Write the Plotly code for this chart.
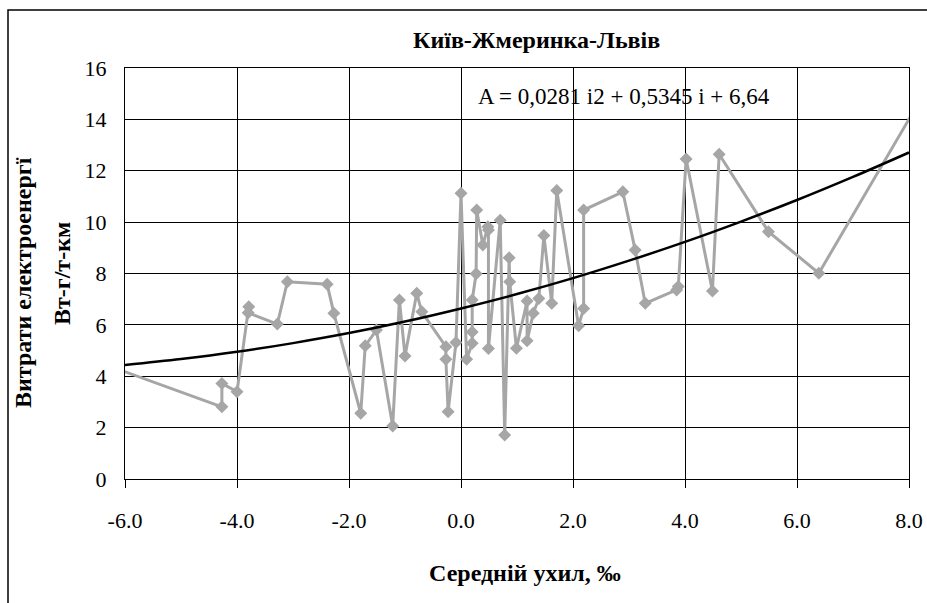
import plotly.graph_objects as go

# ---------------- data ----------------
slope_x = [-6.6, -4.27, -4.27, -4.00, -3.79, -3.80, -3.28, -3.10, -2.39, -2.27,
           -1.79, -1.71, -1.51, -1.22, -1.10, -1.00, -0.79, -0.70, -0.27, -0.27,
           -0.23, -0.09, 0.00, 0.10, 0.20, 0.20, 0.20, 0.27, 0.28, 0.39,
           0.48, 0.49, 0.49, 0.70, 0.78, 0.86, 0.87, 0.99, 1.18, 1.18,
           1.29, 1.39, 1.48, 1.62, 1.71, 2.10, 2.19, 2.19, 2.89, 3.11,
           3.29, 3.85, 3.88, 4.02, 4.49, 4.61, 5.49, 6.39, 8.4]
energy_y = [4.65, 2.81, 3.72, 3.40, 6.71, 6.47, 6.03, 7.68, 7.58, 6.45,
            2.56, 5.19, 5.80, 2.06, 6.97, 4.79, 7.23, 6.51, 5.15, 4.66,
            2.62, 5.31, 11.12, 4.66, 5.28, 5.72, 6.97, 7.99, 10.47, 9.11,
            9.82, 9.69, 5.08, 10.07, 1.71, 8.61, 7.68, 5.09, 6.93, 5.38,
            6.45, 7.03, 9.48, 6.84, 11.23, 5.97, 6.64, 10.47, 11.18, 8.91,
            6.84, 7.36, 7.49, 12.46, 7.32, 12.64, 9.63, 8.01, 15.5]

trend_x = [-6, -5, -4, -3, -2, -1, 0, 1, 2, 3, 4, 5, 6, 7, 8]
trend_y = [4.44, 4.67, 4.95, 5.29, 5.68, 6.13, 6.64, 7.20, 7.82, 8.50,
           9.23, 10.02, 10.86, 11.76, 12.71]

x_tick_vals = [-6, -4, -2, 0, 2, 4, 6, 8]
x_tick_labels = ["-6.0", "-4.0", "-2.0", "0.0", "2.0", "4.0", "6.0", "8.0"]
y_tick_vals = [0, 2, 4, 6, 8, 10, 12, 14, 16]
y_tick_labels = ["0", "2", "4", "6", "8", "10", "12", "14", "16"]

title_text = "Київ-Жмеринка-Львів"
equation_text = "A = 0,0281 i2 + 0,5345 i + 6,64"
x_title = "Середній ухил, ‰"
y_title_1 = "Витрати електроенергї"
y_title_2 = "Вт-г/т-км"

# ---------------- layout helpers ----------------
W, H = 927, 603
L, R, T, B = 125, 909, 68, 479


def px(xp):
    return (xp - L) / (R - L)


def py(yp):
    return (B - yp) / (B - T)


FONT = "'Times New Roman', 'Liberation Serif', 'DejaVu Serif', serif"
GRAY = "#a6a6a6"

fig = go.Figure()
fig.add_trace(go.Scatter(
    x=slope_x, y=energy_y, mode="lines+markers",
    line=dict(color=GRAY, width=3),
    marker=dict(symbol="diamond", size=10, color=GRAY),
    cliponaxis=True, showlegend=False, hoverinfo="skip"))
fig.add_trace(go.Scatter(
    x=trend_x, y=trend_y, mode="lines",
    line=dict(color="black", width=2.5, shape="spline"),
    showlegend=False, hoverinfo="skip"))

axis_common = dict(
    showgrid=True, gridcolor="black", gridwidth=1,
    showline=True, linecolor="black", linewidth=1, mirror=True,
    zeroline=False, automargin=False,
    tickfont=dict(family=FONT, size=22, color="black"),
)

fig.update_layout(
    width=W, height=H,
    margin=dict(l=L, r=W - R, t=T, b=H - B, pad=0, autoexpand=False),
    paper_bgcolor="white", plot_bgcolor="white",
    font=dict(family=FONT, color="black"),
    xaxis=dict(range=[-6, 8], tickvals=x_tick_vals, ticktext=x_tick_labels,
               ticks="outside", ticklen=8, tickcolor="black",
               ticklabelstandoff=14, **axis_common),
    yaxis=dict(range=[0, 16], tickvals=y_tick_vals, ticktext=y_tick_labels,
               ticks="", ticklabelstandoff=13, **axis_common),
    shapes=[
        # equation label background
        dict(type="rect", xref="paper", yref="paper",
             x0=px(460), x1=px(786), y0=py(130), y1=py(78),
             fillcolor="white", line=dict(width=0), layer="between"),
        # chart area border
        dict(type="rect", xref="paper", yref="paper",
             x0=px(8), x1=px(940), y0=py(620), y1=py(10),
             fillcolor="rgba(0,0,0,0)", line=dict(color="black", width=1.5),
             layer="above"),
    ],
    annotations=[
        dict(text="<b>" + title_text + "</b>", xref="paper", yref="paper",
             x=px(536), y=py(40), xanchor="center", yanchor="middle",
             showarrow=False, font=dict(family=FONT, size=24, color="black")),
        dict(text=equation_text, xref="paper", yref="paper",
             x=px(624), y=py(96), xanchor="center", yanchor="middle",
             showarrow=False, font=dict(family=FONT, size=23, color="black")),
        dict(text="<b>" + x_title + "</b>", xref="paper", yref="paper",
             x=px(525), y=py(573), xanchor="center", yanchor="middle",
             showarrow=False, font=dict(family=FONT, size=24, color="black")),
        dict(text="<b>" + y_title_1 + "</b>", xref="paper", yref="paper",
             x=px(23), y=py(283), xanchor="center", yanchor="middle",
             textangle=-90, showarrow=False,
             font=dict(family=FONT, size=24, color="black")),
        dict(text="<b>" + y_title_2 + "</b>", xref="paper", yref="paper",
             x=px(62), y=py(273), xanchor="center", yanchor="middle",
             textangle=-90, showarrow=False,
             font=dict(family=FONT, size=24, color="black")),
    ],
)

fig.write_html("out.html")
